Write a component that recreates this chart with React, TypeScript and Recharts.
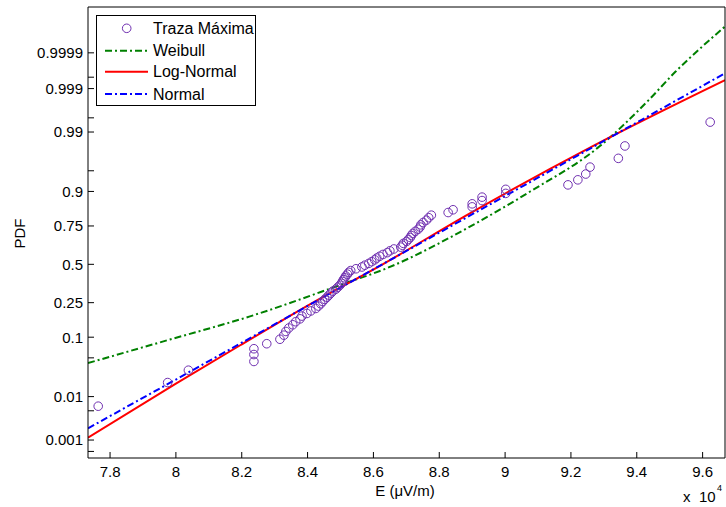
import React from "react";
import { ComposedChart, Scatter, Line, XAxis, YAxis } from "recharts";

// measured field, sorted, with its plotting probabilities
const pointE = [
  77640, 79750, 80380, 82370, 82370, 82370, 82760, 83160, 83280, 83340,
  83430, 83550, 83640, 83770, 83830, 83980, 84100, 84250, 84330, 84400,
  84460, 84520, 84590, 84650, 84710, 84770, 84860, 84920, 84980, 85030,
  85060, 85090, 85130, 85160, 85210, 85250, 85310, 85470, 85650, 85740,
  85860, 85950, 86040, 86100, 86190, 86290, 86420, 86500, 86620, 86830,
  86880, 86910, 87010, 87060, 87120, 87150, 87200, 87270, 87360, 87420,
  87440, 87510, 87610, 87680, 87760, 88270, 88420, 89000, 89000, 89300,
  89300, 90020, 90020, 91910, 92210, 92450, 92580, 93440, 93640, 96230,
];
const pointP = [
  0.0063, 0.0188, 0.0313, 0.0438, 0.0563, 0.0688, 0.0813, 0.0938, 0.1063, 0.1188,
  0.1313, 0.1438, 0.1563, 0.1688, 0.1813, 0.1938, 0.2063, 0.2188, 0.2313, 0.2438,
  0.2563, 0.2688, 0.2813, 0.2938, 0.3063, 0.3188, 0.3313, 0.3438, 0.3563, 0.3688,
  0.3813, 0.3938, 0.4063, 0.4188, 0.4313, 0.4438, 0.4563, 0.4688, 0.4813, 0.4938,
  0.5063, 0.5188, 0.5313, 0.5438, 0.5563, 0.5688, 0.5813, 0.5938, 0.6063, 0.6188,
  0.6313, 0.6438, 0.6563, 0.6688, 0.6813, 0.6938, 0.7063, 0.7188, 0.7313, 0.7438,
  0.7563, 0.7688, 0.7813, 0.7938, 0.8063, 0.8188, 0.8313, 0.8438, 0.8563, 0.8688,
  0.8813, 0.8938, 0.9063, 0.9188, 0.9313, 0.9438, 0.9563, 0.9688, 0.9813, 0.9938,
];

// fitted curves
const weibullE = [77330, 79820, 82250, 84980, 86410, 88930, 90750, 92870, 94370, 95180, 95990, 96680];
const weibullP = [0.0412, 0.0931, 0.18, 0.357, 0.473, 0.746, 0.899, 0.981, 0.99809, 0.99965, 0.999936, 0.9999855];
const lognormE = [77330, 80000, 81940, 84070, 86280, 88930, 92650, 96680];
const lognormP = [0.00115, 0.0179, 0.0767, 0.241, 0.5, 0.815, 0.981, 0.9994];
const normalE = [77330, 80000, 84000, 88000, 92000, 96680];
const normalP = [0.00196, 0.0214, 0.232, 0.711, 0.9676, 0.99961];

const xTicks = [78000, 80000, 82000, 84000, 86000, 88000, 90000, 92000, 94000, 96000];
const yLabelTicks = [0.001, 0.01, 0.1, 0.25, 0.5, 0.75, 0.9, 0.99, 0.999, 0.9999];
const yMinorTicks = [0.0005, 0.005, 0.05, 0.95, 0.995, 0.9995];

// inverse normal cdf (probability paper)
function probit(p: number) {
  const a = [-39.69683028665376, 220.9460984245205, -275.9285104469687, 138.357751867269, -30.66479806614716, 2.506628277459239];
  const b = [-54.47609879822406, 161.5858368580409, -155.6989798598866, 66.80131188771972, -13.28068155288572];
  const c = [-0.007784894002430293, -0.3223964580411365, -2.400758277161838, -2.549732539343734, 4.374664141464968, 2.938163982698783];
  const d = [0.007784695709041462, 0.3224671290700398, 2.445134137142996, 3.754408661907416];
  const pl = 0.02425;
  if (p < pl) {
    const q = Math.sqrt(-2 * Math.log(p));
    return (((((c[0] * q + c[1]) * q + c[2]) * q + c[3]) * q + c[4]) * q + c[5]) / ((((d[0] * q + d[1]) * q + d[2]) * q + d[3]) * q + 1);
  }
  if (p > 1 - pl) {
    const q = Math.sqrt(-2 * Math.log(1 - p));
    return -(((((c[0] * q + c[1]) * q + c[2]) * q + c[3]) * q + c[4]) * q + c[5]) / ((((d[0] * q + d[1]) * q + d[2]) * q + d[3]) * q + 1);
  }
  const q = p - 0.5;
  const r = q * q;
  return ((((((a[0] * r + a[1]) * r + a[2]) * r + a[3]) * r + a[4]) * r + a[5]) * q) / (((((b[0] * r + b[1]) * r + b[2]) * r + b[3]) * r + b[4]) * r + 1);
}

const toRows = (xs: number[], ps: number[]) => xs.map((x, i) => ({ x, z: probit(ps[i]) }));

const points = toRows(pointE, pointP);
const weibull = toRows(weibullE, weibullP);
const lognorm = toRows(lognormE, lognormP);
const normal = toRows(normalE, normalP);

const yTickZ = [...yLabelTicks, ...yMinorTicks].map(probit).sort((a, b) => a - b);
const yLabel = (z: number) => {
  const hit = yLabelTicks.find((p) => Math.abs(probit(p) - z) < 1e-6);
  return hit === undefined ? "" : String(hit);
};

const X_DOMAIN: [number, number] = [77330, 96680];
const Y_DOMAIN: [number, number] = [-3.406, 4.525];
const FONT = "'Liberation Sans', Arial, sans-serif";
const PURPLE = "#6f2fb0";

const Ring = (props: any) => (
  <circle cx={props.cx} cy={props.cy} r={4.3} fill="none" stroke={PURPLE} strokeWidth={1} />
);

export default function App() {
  return (
    <div style={{ position: "absolute", left: 0, top: 0, width: 726, height: 507, background: "#fff", fontFamily: FONT }}>
      <ComposedChart width={726} height={507} margin={{ top: 0, right: 0, bottom: 0, left: 0 }}>
        <XAxis
          type="number"
          dataKey="x"
          domain={X_DOMAIN}
          allowDataOverflow
          ticks={xTicks}
          interval={0}
          height={49}
          tickSize={-6}
          tickMargin={14}
          stroke="#000"
          tick={{ fill: "#000", fontSize: 15, fontFamily: FONT }}
          tickFormatter={(v: number) => String(parseFloat((v / 1e4).toFixed(1)))}
        />
        <XAxis
          xAxisId="top"
          orientation="top"
          type="number"
          domain={X_DOMAIN}
          allowDataOverflow
          ticks={xTicks}
          interval={0}
          height={7}
          tickSize={-6}
          stroke="#000"
          tick={false}
        />
        <YAxis
          type="number"
          dataKey="z"
          domain={Y_DOMAIN}
          allowDataOverflow
          ticks={yTickZ}
          interval={0}
          width={88}
          tickSize={-6}
          tickMargin={11}
          stroke="#000"
          tick={{ fill: "#000", fontSize: 15, fontFamily: FONT }}
          tickFormatter={yLabel}
        />
        <YAxis
          yAxisId="r"
          orientation="right"
          type="number"
          domain={Y_DOMAIN}
          allowDataOverflow
          ticks={yTickZ}
          interval={0}
          width={1}
          tickSize={-6}
          stroke="#000"
          tick={false}
        />
        <Scatter data={points} dataKey="z" shape={Ring} isAnimationActive={false} />
        <Line data={weibull} dataKey="z" type="monotone" stroke="#008000" strokeWidth={2} strokeDasharray="7 3 2 3" dot={false} activeDot={false} isAnimationActive={false} />
        <Line data={lognorm} dataKey="z" type="monotone" stroke="#ff0000" strokeWidth={2} dot={false} activeDot={false} isAnimationActive={false} />
        <Line data={normal} dataKey="z" type="linear" stroke="#0000ff" strokeWidth={2} strokeDasharray="7 3 2 3" dot={false} activeDot={false} isAnimationActive={false} />
      </ComposedChart>

      <svg width={726} height={507} style={{ position: "absolute", left: 0, top: 0, pointerEvents: "none" }} fontFamily={FONT}>
        <text x={405} y={496} fontSize={15} textAnchor="middle" fill="#000">E (μV/m)</text>
        <text x={683} y={501.5} fontSize={15} fill="#000">x</text>
        <text x={699} y={501.5} fontSize={15} fill="#000">10</text>
        <text x={717} y={491} fontSize={9} fill="#000">4</text>
        <text x={25} y={233.5} fontSize={15} textAnchor="middle" fill="#000" transform="rotate(-90 25 233.5)">PDF</text>

        <rect x={96.5} y={15.5} width={159} height={90} fill="#fff" stroke="#000" strokeWidth={1} />
        <circle cx={126.7} cy={28.3} r={4.3} fill="none" stroke={PURPLE} strokeWidth={1} />
        <line x1={105} y1={50.7} x2={148} y2={50.7} stroke="#008000" strokeWidth={2} strokeDasharray="7 3 2 3" />
        <line x1={105} y1={71.7} x2={148} y2={71.7} stroke="#ff0000" strokeWidth={2} />
        <line x1={105} y1={94} x2={148} y2={94} stroke="#0000ff" strokeWidth={2} strokeDasharray="7 3 2 3" />
        <text x={153} y={33.8} fontSize={16} fill="#000">Traza Máxima</text>
        <text x={153} y={56.2} fontSize={16} fill="#000">Weibull</text>
        <text x={153} y={77.2} fontSize={16} fill="#000">Log-Normal</text>
        <text x={153} y={99.5} fontSize={16} fill="#000">Normal</text>
      </svg>
    </div>
  );
}
